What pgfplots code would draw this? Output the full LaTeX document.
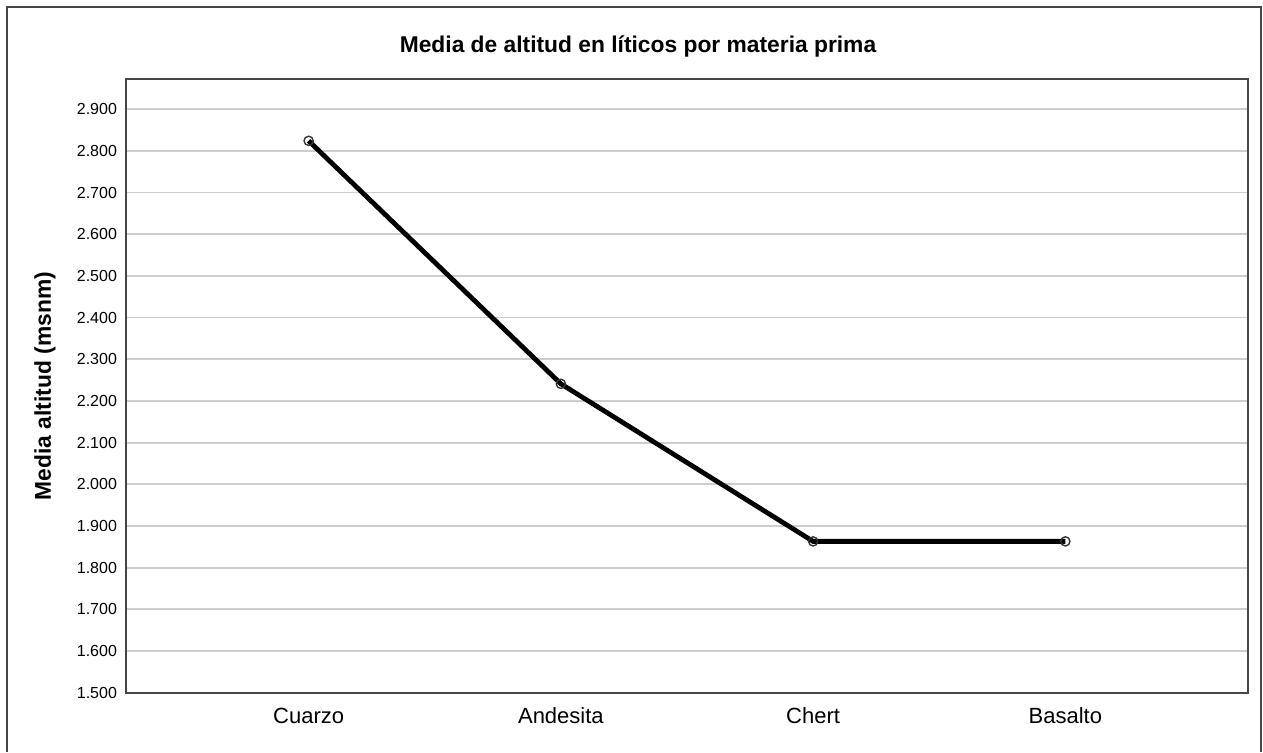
\documentclass[border=0pt]{standalone}
\usepackage{pgfplots}
\pgfplotsset{compat=1.18}
\usepackage{fontspec}
\setmainfont{Liberation Sans}
\definecolor{gridgray}{RGB}{205,205,205}
\definecolor{framegray}{RGB}{70,70,70}
\begin{document}
\begin{tikzpicture}[x=1pt,y=1pt]
\useasboundingbox (0,0) rectangle (631.5,376);
% outer frame (bottom edge cut off)
\draw[framegray, line width=0.8pt] (3.6,0) -- (3.6,372.4) -- (630.5,372.4) -- (630.5,0);
\begin{axis}[
  at={(63pt,29.65pt)}, anchor=south west,
  scale only axis, width=561pt, height=307pt,
  xmin=-0.724, xmax=3.724,
  ymin=1500, ymax=2973,
  xtick={0,1,2,3},
  xticklabels={Cuarzo,Andesita,Chert,Basalto},
  ytick={1500,1600,1700,1800,1900,2000,2100,2200,2300,2400,2500,2600,2700,2800,2900},
  major tick length=0pt,
  ymajorgrids,
  grid style={gridgray, line width=0.9pt},
  axis line style={framegray, line width=1pt},
  yticklabel style={font=\fontsize{8}{9}\selectfont, xshift=-1pt},
  xticklabel style={font=\fontsize{11}{12}\selectfont, yshift=-4pt},
  /pgf/number format/.cd, fixed, 1000 sep={.}, assume math mode=true,
]
\addplot[black, line width=2.4pt, mark=o,
  mark options={solid, line width=0.7pt, draw=black!80, fill=white, mark size=2.3pt}]
  coordinates {(0,2824) (1,2241) (2,1863) (3,1863)};
\end{axis}
\node[font=\bfseries\fontsize{11.4}{13}\selectfont] at (319,352.5) {Media de altitud en líticos por materia prima};
\node[font=\bfseries\fontsize{11.4}{13}\selectfont, rotate=90] at (22.5,183) {Media altitud (msnm)};
\end{tikzpicture}
\end{document}
